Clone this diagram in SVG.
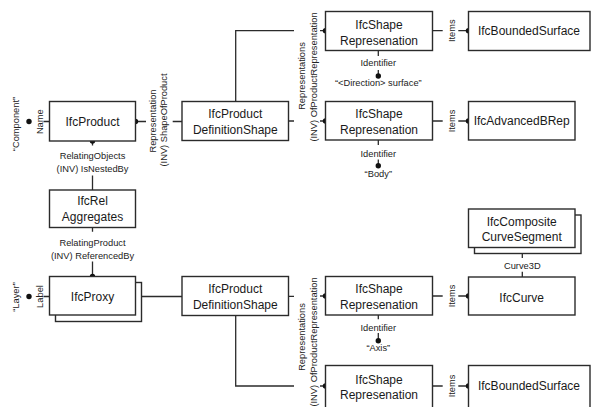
<svg xmlns="http://www.w3.org/2000/svg" width="591" height="407" viewBox="0 0 591 407">
<style>
.box{fill:#fff;stroke:#2b2b2b;stroke-width:1.4}
.ln{fill:none;stroke:#2b2b2b;stroke-width:1.3}
.dot{fill:#111}
.t{font-family:"Liberation Sans",Arial,sans-serif;font-size:12px;fill:#1a1a1a;text-anchor:middle}
.s{font-family:"Liberation Sans",Arial,sans-serif;font-size:9.3px;fill:#222;text-anchor:middle}
</style>
<rect width="591" height="407" fill="#fff"/>
<g id="connectors">
  <path class="ln" d="M43.5 121.5H49.5M43.5 296.5H49.5"/>
  <path class="ln" d="M135.5 121.5H146M172.7 121.5H182"/>
  <path class="ln" d="M92.5 141V145.5M92.5 175.5V190"/>
  <path class="ln" d="M92.5 227.5V231.7M92.5 261.5V276.5"/>
  <path class="ln" d="M135.5 296.5H182"/>
  <path class="ln" d="M235.7 101.5V30.7H294M288.5 121H294M320 30.7H325.5M320 121H325.5"/>
  <path class="ln" d="M288.5 296.3H294M235.7 315.5V386H294M320 296H325.5M320 386H325.5"/>
  <path class="ln" d="M378.3 50.5V56M378.3 70V76M378.3 140V145M378.3 159.5V165.7M378.3 315V319.3M378.3 333V340.7M378.3 402.5V407"/>
  <path class="ln" d="M432.5 30.7H442.7M458.3 30.7H468.5M432.5 121H442.7M458.3 121H468.5M432.5 296H442.7M458.3 296H468.5M432.5 386H442.7M458.3 386H468.5"/>
  <path class="ln" d="M522.3 247.5V258M522.3 271.7V277"/>
  <g class="dot">
    <circle cx="29" cy="121.5" r="2.7"/>
    <circle cx="29" cy="296.5" r="2.7"/>
    <circle cx="135.5" cy="121.5" r="2.7"/>
    <circle cx="92.5" cy="141" r="2.7"/>
    <circle cx="92.5" cy="276.5" r="2.7"/>
    <circle cx="135.5" cy="296.5" r="2.7"/>
    <circle cx="325.5" cy="30.7" r="2.7"/>
    <circle cx="325.5" cy="121" r="2.7"/>
    <circle cx="325.5" cy="296" r="2.7"/>
    <circle cx="325.5" cy="386" r="2.7"/>
    <circle cx="378.3" cy="76" r="2.7"/>
    <circle cx="378.3" cy="165.7" r="2.7"/>
    <circle cx="378.3" cy="340.7" r="2.7"/>
    <circle cx="468.5" cy="30.7" r="2.7"/>
    <circle cx="468.5" cy="121" r="2.7"/>
    <circle cx="468.5" cy="296" r="2.7"/>
    <circle cx="468.5" cy="386" r="2.7"/>
    <circle cx="522.3" cy="247.5" r="2.7"/>
  </g>
  <text class="s" transform="translate(15.5,124) rotate(-90)" y="3.3">“Component”</text>
  <text class="s" transform="translate(39.3,121.7) rotate(-90)" y="3.3">Name</text>
  <text class="s" transform="translate(15.5,297) rotate(-90)" y="3.3">“Layer”</text>
  <text class="s" transform="translate(39.3,296.5) rotate(-90)" y="3.3">Label</text>
  <text class="s" transform="translate(152.7,121) rotate(-90)" y="3.3">Representation</text>
  <text class="s" transform="translate(163.5,120) rotate(-90)" y="3.3">(INV) ShapeOfProduct</text>
  <text class="s" x="92.5" y="159">RelatingObjects</text>
  <text class="s" x="92.5" y="172.3">(INV) IsNestedBy</text>
  <text class="s" x="92.5" y="246">RelatingProduct</text>
  <text class="s" x="92.5" y="259.3">(INV) ReferencedBy</text>
  <text class="s" transform="translate(301.7,76) rotate(-90)" y="3.3">Representations</text>
  <text class="s" transform="translate(314,77) rotate(-90)" y="3.3">(INV) OfProductRepresentation</text>
  <text class="s" transform="translate(301.7,337) rotate(-90)" y="3.3">Representations</text>
  <text class="s" transform="translate(314,342) rotate(-90)" y="3.3">(INV) OfProductRepresentation</text>
  <text class="s" x="378.3" y="65.6">Identifier</text>
  <text class="s" x="378.3" y="86">“&lt;Direction&gt; surface”</text>
  <text class="s" x="378.3" y="156.6">Identifier</text>
  <text class="s" x="378.3" y="176.6">“Body”</text>
  <text class="s" x="378.3" y="331">Identifier</text>
  <text class="s" x="378.3" y="350.6">“Axis”</text>
  <text class="s" transform="translate(451.3,30.7) rotate(-90)" y="3.3">Items</text>
  <text class="s" transform="translate(451.3,121) rotate(-90)" y="3.3">Items</text>
  <text class="s" transform="translate(451.3,296) rotate(-90)" y="3.3">Items</text>
  <text class="s" transform="translate(451.3,386) rotate(-90)" y="3.3">Items</text>
  <text class="s" x="522.3" y="269">Curve3D</text>
</g>
<g id="IfcProduct">
  <rect class="box" x="49.5" y="101.5" width="86" height="39.5"/>
  <text class="t" x="92.5" y="125.5">IfcProduct</text>
</g>
<g id="IfcRelAggregates">
  <rect class="box" x="49.5" y="190" width="86" height="37.5"/>
  <text class="t" x="92.5" y="205">IfcRel</text>
  <text class="t" x="92.5" y="221">Aggregates</text>
</g>
<g id="IfcProxy">
  <rect class="box" x="55.5" y="282.5" width="86" height="39"/>
  <rect class="box" x="49.5" y="276.5" width="86" height="38.5"/>
  <text class="t" x="92.5" y="301">IfcProxy</text>
</g>
<g id="IfcProductDefinitionShape1">
  <rect class="box" x="182" y="101.5" width="106.5" height="39"/>
  <text class="t" x="235.3" y="118.3">IfcProduct</text>
  <text class="t" x="235.3" y="134.3">DefinitionShape</text>
</g>
<g id="IfcProductDefinitionShape2">
  <rect class="box" x="182" y="276.5" width="106.5" height="39"/>
  <text class="t" x="235.3" y="293.3">IfcProduct</text>
  <text class="t" x="235.3" y="309.3">DefinitionShape</text>
</g>
<g id="IfcShapeRepresentation1">
  <rect class="box" x="325.5" y="11.5" width="107" height="39"/>
  <text class="t" x="379" y="29.3">IfcShape</text>
  <text class="t" x="379" y="45">Represenation</text>
</g>
<g id="IfcShapeRepresentation2">
  <rect class="box" x="325.5" y="101.5" width="107" height="38.5"/>
  <text class="t" x="379" y="118.3">IfcShape</text>
  <text class="t" x="379" y="134.3">Represenation</text>
</g>
<g id="IfcShapeRepresentation3">
  <rect class="box" x="325.5" y="276.5" width="107" height="38.5"/>
  <text class="t" x="379" y="293.3">IfcShape</text>
  <text class="t" x="379" y="309.3">Represenation</text>
</g>
<g id="IfcShapeRepresentation4">
  <rect class="box" x="325.5" y="365.5" width="107" height="50"/>
  <text class="t" x="379" y="384.3">IfcShape</text>
  <text class="t" x="379" y="399.3">Represenation</text>
</g>
<g id="IfcBoundedSurface1">
  <rect class="box" x="468.5" y="11.5" width="121.5" height="39"/>
  <text class="t" x="529" y="35">IfcBoundedSurface</text>
</g>
<g id="IfcAdvancedBRep">
  <rect class="box" x="468.5" y="101.5" width="106.5" height="38.5"/>
  <text class="t" x="521.7" y="125.3">IfcAdvancedBRep</text>
</g>
<g id="IfcCompositeCurveSegment">
  <rect class="box" x="474.5" y="215" width="106.5" height="38.5"/>
  <rect class="box" x="468.5" y="209" width="106.5" height="38.5"/>
  <text class="t" x="521.7" y="226">IfcComposite</text>
  <text class="t" x="521.7" y="241">CurveSegment</text>
</g>
<g id="IfcCurve">
  <rect class="box" x="468.5" y="277" width="106.5" height="38"/>
  <text class="t" x="521.7" y="301.5">IfcCurve</text>
</g>
<g id="IfcBoundedSurface2">
  <rect class="box" x="468.5" y="365.5" width="121.5" height="50"/>
  <text class="t" x="529" y="390.3">IfcBoundedSurface</text>
</g>
</svg>
